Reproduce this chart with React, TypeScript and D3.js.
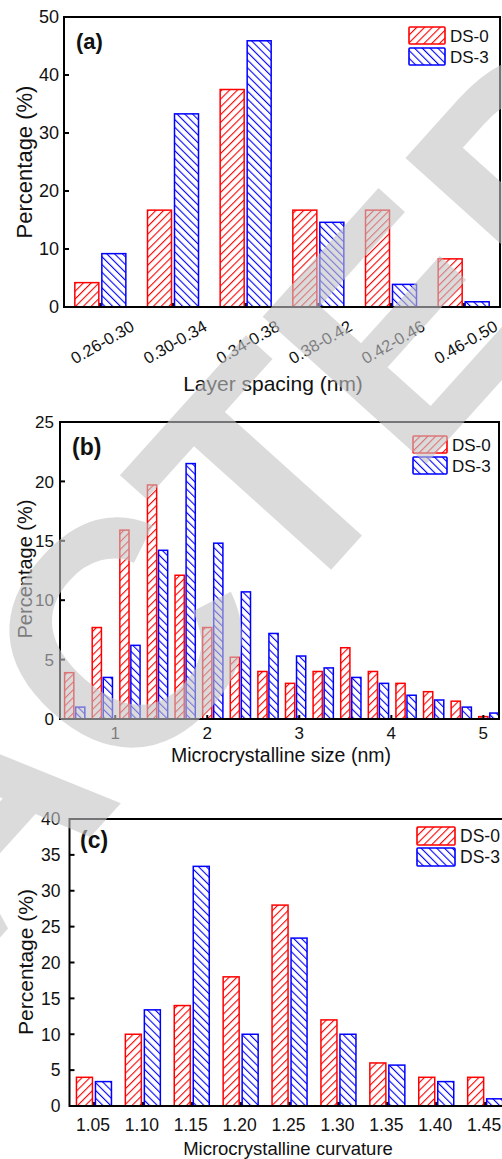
import React from 'react';
import * as d3 from 'd3';

const seriesNames = ['DS-0', 'DS-3'];
const seriesColors = ['#ff0000', '#0000ff'];

const spacingCats = ['0.26-0.30', '0.30-0.34', '0.34-0.38', '0.38-0.42', '0.42-0.46', '0.46-0.50'];
const spacingDS0 = [4.2, 16.7, 37.5, 16.7, 16.7, 8.3];
const spacingDS3 = [9.2, 33.3, 45.9, 14.6, 3.9, 0.9];
const spacingYTicks = [0, 10, 20, 30, 40, 50];

const sizeBins = [0.5, 0.8, 1.1, 1.4, 1.7, 2.0, 2.3, 2.6, 2.9, 3.2, 3.5, 3.8, 4.1, 4.4, 4.7, 5.0];
const sizeDS0 = [3.9, 7.7, 15.9, 19.7, 12.1, 7.7, 5.2, 4.0, 3.0, 4.0, 6.0, 4.0, 3.0, 2.3, 1.5, 0.2];
const sizeDS3 = [1.0, 3.5, 6.2, 14.2, 21.5, 14.8, 10.7, 7.2, 5.3, 4.3, 3.5, 3.0, 2.0, 1.6, 1.0, 0.5];
const sizeXTicks = [1, 2, 3, 4, 5];
const sizeYTicks = [0, 5, 10, 15, 20, 25];

const curvCats = ['1.05', '1.10', '1.15', '1.20', '1.25', '1.30', '1.35', '1.40', '1.45'];
const curvDS0 = [4.0, 10.0, 14.0, 18.0, 28.0, 12.0, 6.0, 4.0, 4.0];
const curvDS3 = [3.4, 13.4, 33.4, 10.0, 23.4, 10.0, 5.7, 3.4, 1.0];
const curvYTicks = [0, 5, 10, 15, 20, 25, 30, 35, 40];

const FONT = "'Liberation Sans', Arial, Helvetica, sans-serif";
const pat = ['url(#hatchRed)', 'url(#hatchBlue)'];

function YAxis({ y, ticks, left, fs, gap }: any) {
  return (
    <g>
      {ticks.map((t: number) => (
        <g key={t}>
          <line x1={left} x2={left + 5} y1={y(t)} y2={y(t)} stroke="#000" strokeWidth={2} />
          <text x={left - gap} y={y(t)} dy="0.36em" textAnchor="end" fontSize={fs} fontFamily={FONT} fill="#111">
            {t}
          </text>
        </g>
      ))}
    </g>
  );
}

function Legend({ x, y, w, h, gap, fs }: any) {
  return (
    <g>
      {seriesNames.map((n, i) => (
        <g key={n}>
          <rect x={x} y={y + i * (h + gap)} width={w} height={h} fill={pat[i]} stroke={seriesColors[i]} strokeWidth={1.6} rx={1} />
          <text x={x + w + 5} y={y + i * (h + gap) + h / 2} dy="0.36em" fontSize={fs} fontFamily={FONT} fill="#111">
            {n}
          </text>
        </g>
      ))}
    </g>
  );
}

function PanelA() {
  const L = 64, R = 500, T = 17, B = 307;
  const x = d3.scaleBand<string>().domain(spacingCats).range([L, R]);
  const y = d3.scaleLinear().domain([0, 50]).range([B, T]);
  const bw = 24, g = 3;
  const vals = [spacingDS0, spacingDS3];
  return (
    <g>
      {spacingCats.map((c) => {
        const cx = (x(c) as number) + x.bandwidth() / 2;
        return <rect key={'t' + c} x={cx - 1.5} y={B - 4} width={3} height={4} fill="#000" />;
      })}
      {vals.map((arr, si) =>
        arr.map((v, i) => {
          const cx = (x(spacingCats[i]) as number) + x.bandwidth() / 2;
          const x0 = si === 0 ? cx - g / 2 - bw : cx + g / 2;
          return <rect key={si + '-' + i} x={x0} y={y(v)} width={bw} height={B - y(v)} fill={pat[si]} stroke={seriesColors[si]} strokeWidth={1.5} />;
        })
      )}
      <rect x={L} y={T} width={R - L} height={B - T} fill="none" stroke="#000" strokeWidth={2} />
      <YAxis y={y} ticks={spacingYTicks} left={L} fs={18} gap={5} />
      {spacingCats.map((c) => {
        const cx = (x(c) as number) + x.bandwidth() / 2;
        return (
          <text key={'l' + c} transform={`translate(${cx + 2},${342}) rotate(-30)`} textAnchor="middle" dy="0.36em" fontSize={16.5} fontFamily={FONT} fill="#111">
            {c}
          </text>
        );
      })}
      <text x={273} y={391} textAnchor="middle" fontSize={21} fontFamily={FONT} fill="#111">Layer spacing (nm)</text>
      <text transform={`translate(32,162) rotate(-90)`} textAnchor="middle" fontSize={22} fontFamily={FONT} fill="#111">Percentage (%)</text>
      <text x={76} y={49} fontSize={22} fontWeight="bold" fontFamily={FONT} fill="#111">(a)</text>
      <Legend x={409} y={27} w={36} h={17} gap={4} fs={17} />
    </g>
  );
}

function PanelB() {
  const L = 60, R = 499, T = 422, B = 719;
  const x = d3.scaleLinear().domain([0.4, 5.17]).range([L, R]);
  const y = d3.scaleLinear().domain([0, 25]).range([B, T]);
  const bw = x(0.1) - x(0);
  const vals = [sizeDS0, sizeDS3];
  return (
    <g>
      {vals.map((arr, si) =>
        arr.map((v, i) => {
          const cx = x(sizeBins[i] + (si === 0 ? 0 : 0.12));
          return <rect key={si + '-' + i} x={cx - bw / 2} y={y(v)} width={bw} height={B - y(v)} fill={pat[si]} stroke={seriesColors[si]} strokeWidth={1.5} />;
        })
      )}
      <rect x={L} y={T} width={R - L} height={B - T} fill="none" stroke="#000" strokeWidth={2} />
      <YAxis y={y} ticks={sizeYTicks} left={L} fs={17} gap={6} />
      {sizeXTicks.map((t) => (
        <g key={t}>
          <line x1={x(t)} x2={x(t)} y1={B} y2={B - 4} stroke="#000" strokeWidth={2} />
          <text x={x(t)} y={733} dy="0.36em" textAnchor="middle" fontSize={17} fontFamily={FONT} fill="#111">{t}</text>
        </g>
      ))}
      <text x={281} y={762} textAnchor="middle" fontSize={19.5} fontFamily={FONT} fill="#111">Microcrystalline size (nm)</text>
      <text transform={`translate(32,569) rotate(-90)`} textAnchor="middle" fontSize={20} fontFamily={FONT} fill="#111">Percentage (%)</text>
      <text x={72} y={455} fontSize={23} fontWeight="bold" fontFamily={FONT} fill="#111">(b)</text>
      <Legend x={413} y={436} w={34} h={17} gap={4} fs={17} />
    </g>
  );
}

function PanelC() {
  const L = 69.5, R = 509.6, T = 819, B = 1106;
  const x = d3.scaleBand<string>().domain(curvCats).range([L, R]);
  const y = d3.scaleLinear().domain([0, 40]).range([B, T]);
  const bw = 16, g = 3;
  const vals = [curvDS0, curvDS3];
  return (
    <g>
      {curvCats.map((c) => {
        const cx = (x(c) as number) + x.bandwidth() / 2;
        return <rect key={'t' + c} x={cx - 1.5} y={B - 4} width={3} height={4} fill="#000" />;
      })}
      {vals.map((arr, si) =>
        arr.map((v, i) => {
          const cx = (x(curvCats[i]) as number) + x.bandwidth() / 2;
          const x0 = si === 0 ? cx - g / 2 - bw : cx + g / 2;
          return <rect key={si + '-' + i} x={x0} y={y(v)} width={bw} height={B - y(v)} fill={pat[si]} stroke={seriesColors[si]} strokeWidth={1.5} />;
        })
      )}
      <rect x={L} y={T} width={R - L} height={B - T} fill="none" stroke="#000" strokeWidth={2} />
      <YAxis y={y} ticks={curvYTicks} left={L} fs={17.5} gap={9} />
      {curvCats.map((c) => {
        const cx = (x(c) as number) + x.bandwidth() / 2;
        return (
          <text key={'l' + c} x={cx - 1} y={1125} dy="0.36em" textAnchor="middle" fontSize={17.5} fontFamily={FONT} fill="#111">{c}</text>
        );
      })}
      <text x={288} y={1155} textAnchor="middle" fontSize={18.5} fontFamily={FONT} fill="#111">Microcrystalline curvature</text>
      <text transform={`translate(33,962) rotate(-90)`} textAnchor="middle" fontSize={21} fontFamily={FONT} fill="#111">Percentage (%)</text>
      <text x={80} y={848} fontSize={23} fontWeight="bold" fontFamily={FONT} fill="#111">(c)</text>
      <Legend x={417} y={827} w={38} h={18} gap={3} fs={17.5} />
    </g>
  );
}

export default function App() {
  return (
    <svg width={502} height={1159} style={{ position: 'absolute', left: 0, top: 0, background: '#fff' }}>
      <defs>
        <pattern id="hatchRed" patternUnits="userSpaceOnUse" width={5.5} height={5.5} patternTransform="rotate(45)">
          <line x1={0} y1={0} x2={0} y2={5.5} stroke="#ff0000" strokeWidth={2.2} />
        </pattern>
        <pattern id="hatchBlue" patternUnits="userSpaceOnUse" width={5.5} height={5.5} patternTransform="rotate(-45)">
          <line x1={0} y1={0} x2={0} y2={5.5} stroke="#0000ff" strokeWidth={2.2} />
        </pattern>
      </defs>
      <rect x={0} y={0} width={502} height={1159} fill="#fff" />
      <PanelA />
      <PanelB />
      <PanelC />
      <text transform="translate(-611,1616) rotate(-48)" fontSize={320} fontWeight="bold" fontFamily={FONT} fill="#c4c4c6" opacity={0.6}>
        RETRACTED
      </text>
    </svg>
  );
}
